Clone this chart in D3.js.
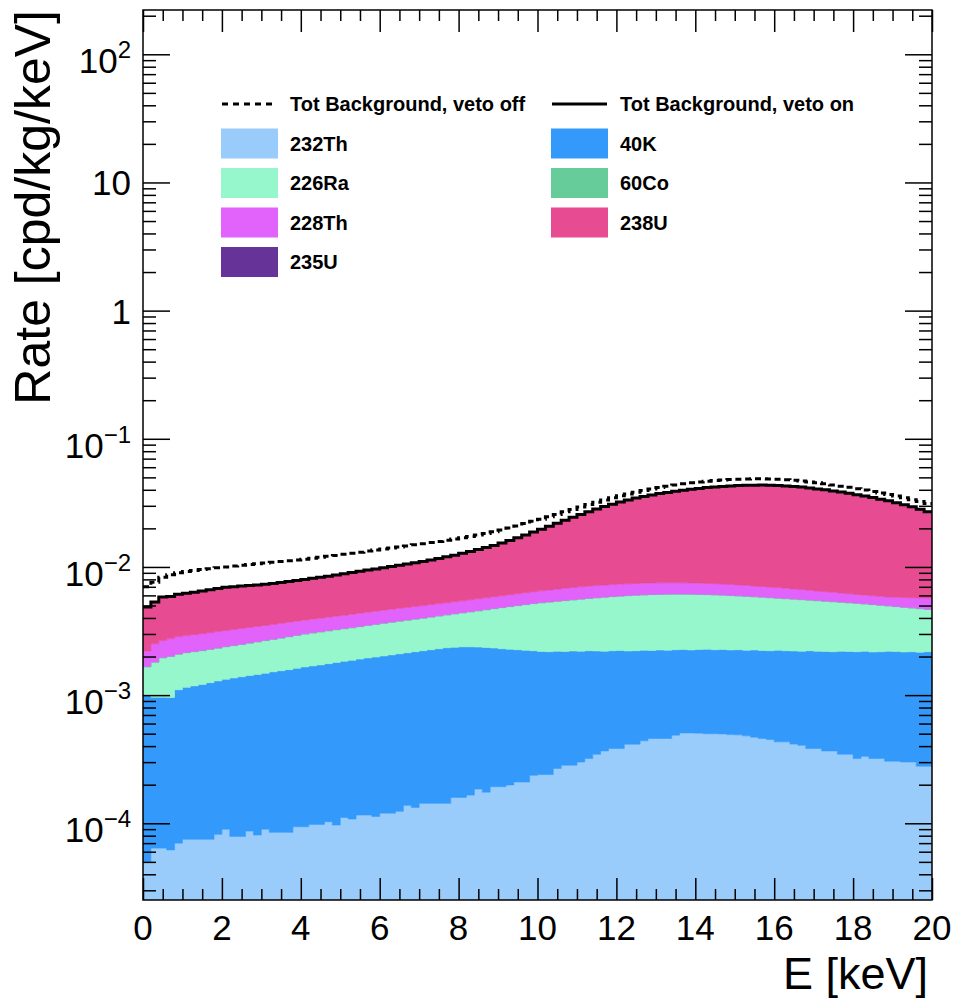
<!DOCTYPE html>
<html>
<head>
<meta charset="utf-8">
<script src="https://cdn.jsdelivr.net/npm/d3@7"></script>
<style>
  html, body { margin: 0; padding: 0; background: #fff; }
  svg { display: block; }
  text { font-family: "Liberation Sans", Arial, Helvetica, sans-serif; fill: #000; }
</style>
</head>
<body>
<svg id="chart" width="957" height="1000"></svg>
<script>
// Energy binning: 100 bins of 0.2 keV between 0 and 20 keV
const eMin = 0, eMax = 20, nBins = 100;

// All rates below are in units of 1e-3 cpd/kg/keV (one value per bin)
const UNIT = 1e-3;

const th232 = [0.050,0.064,0.064,0.062,0.070,0.075,0.075,0.075,0.075,0.082,
  0.090,0.079,0.079,0.087,0.081,0.090,0.085,0.085,0.085,0.094,
  0.094,0.098,0.098,0.103,0.097,0.111,0.108,0.116,0.116,0.113,
  0.120,0.120,0.124,0.138,0.133,0.143,0.143,0.143,0.143,0.159,
  0.159,0.166,0.185,0.175,0.193,0.193,0.199,0.210,0.210,0.237,
  0.240,0.240,0.268,0.284,0.284,0.301,0.320,0.346,0.367,0.383,
  0.383,0.414,0.414,0.440,0.459,0.459,0.459,0.487,0.507,0.507,
  0.505,0.500,0.500,0.498,0.492,0.490,0.481,0.470,0.459,0.450,
  0.432,0.432,0.415,0.406,0.383,0.383,0.367,0.367,0.346,0.346,
  0.320,0.333,0.320,0.320,0.305,0.305,0.301,0.301,0.279,0.279];

const k40 = [0.950,0.897,0.897,0.898,1.031,1.075,1.105,1.135,1.175,1.208,
  1.240,1.281,1.311,1.333,1.369,1.390,1.435,1.465,1.495,1.526,
  1.566,1.592,1.622,1.657,1.703,1.729,1.762,1.794,1.834,1.867,
  1.900,1.940,1.976,2.002,2.047,2.077,2.117,2.157,2.197,2.201,
  2.221,2.214,2.185,2.175,2.137,2.107,2.081,2.050,2.030,1.983,
  1.950,1.940,1.932,1.906,1.926,1.899,1.900,1.864,1.833,1.837,
  1.847,1.796,1.806,1.800,1.771,1.791,1.781,1.773,1.763,1.743,
  1.765,1.780,1.760,1.772,1.758,1.770,1.759,1.780,1.771,1.770,
  1.808,1.788,1.795,1.794,1.837,1.817,1.823,1.813,1.854,1.844,
  1.860,1.867,1.850,1.860,1.895,1.885,1.869,1.879,1.881,1.901];

const ra226 = [0.66,0.84,0.99,1.04,0.98,0.99,1.00,1.01,1.02,1.03,
  1.05,1.07,1.09,1.12,1.15,1.18,1.20,1.23,1.27,1.30,
  1.33,1.36,1.39,1.41,1.43,1.45,1.48,1.51,1.54,1.58,
  1.61,1.64,1.67,1.70,1.73,1.76,1.80,1.84,1.88,1.94,
  2.00,2.08,2.17,2.28,2.39,2.51,2.62,2.73,2.84,2.95,
  3.06,3.14,3.19,3.27,3.32,3.40,3.45,3.53,3.60,3.64,
  3.69,3.76,3.79,3.81,3.85,3.85,3.88,3.87,3.86,3.87,
  3.83,3.80,3.79,3.75,3.73,3.68,3.66,3.60,3.57,3.53,
  3.46,3.43,3.39,3.35,3.28,3.25,3.21,3.17,3.10,3.06,
  3.02,2.94,2.91,2.84,2.76,2.71,2.67,2.60,2.56,2.48];

const co60 = [0.010,0.011,0.011,0.012,0.012,0.012,0.012,0.013,0.013,0.013,
  0.013,0.013,0.014,0.014,0.014,0.014,0.014,0.014,0.015,0.015,
  0.015,0.015,0.015,0.015,0.016,0.016,0.016,0.016,0.016,0.016,
  0.017,0.017,0.017,0.017,0.017,0.017,0.017,0.018,0.018,0.018,
  0.018,0.018,0.018,0.018,0.019,0.019,0.019,0.019,0.019,0.019,
  0.019,0.019,0.020,0.020,0.020,0.020,0.020,0.020,0.020,0.020,
  0.020,0.020,0.020,0.020,0.020,0.020,0.020,0.020,0.020,0.020,
  0.020,0.020,0.019,0.019,0.019,0.019,0.019,0.019,0.019,0.019,
  0.019,0.018,0.018,0.018,0.018,0.018,0.018,0.018,0.017,0.017,
  0.017,0.017,0.017,0.017,0.016,0.016,0.016,0.016,0.016,0.016];

const th228 = [0.54,0.70,0.70,0.75,0.77,0.76,0.77,0.78,0.79,0.80,
  0.80,0.81,0.82,0.82,0.82,0.82,0.83,0.84,0.84,0.84,
  0.84,0.85,0.86,0.87,0.88,0.89,0.91,0.92,0.93,0.94,
  0.95,0.96,0.97,0.98,0.99,1.00,1.01,1.02,1.03,1.04,
  1.05,1.07,1.09,1.10,1.12,1.14,1.16,1.18,1.20,1.22,
  1.25,1.28,1.31,1.34,1.37,1.38,1.39,1.39,1.40,1.40,
  1.40,1.40,1.40,1.40,1.40,1.40,1.39,1.38,1.37,1.36,
  1.35,1.34,1.33,1.31,1.30,1.28,1.26,1.24,1.22,1.20,
  1.18,1.15,1.12,1.09,1.06,1.03,1.00,0.97,0.94,0.91,
  0.88,0.87,0.86,0.86,0.86,0.88,0.92,0.96,1.00,1.04];

const u238 = [2.65,2.80,3.15,3.10,3.25,3.30,3.35,3.45,3.54,3.63,
  3.72,3.74,3.75,3.76,3.78,3.82,3.85,3.90,3.96,4.04,
  4.12,4.20,4.28,4.38,4.49,4.62,4.74,4.86,4.98,5.10,
  5.22,5.36,5.51,5.66,5.82,6.00,6.21,6.44,6.69,6.96,
  7.27,7.59,7.95,8.35,8.78,9.35,9.94,10.63,11.42,12.26,
  13.1,14.1,15.1,16.2,17.4,18.6,19.8,21.1,22.3,23.5,
  24.7,25.8,26.9,27.9,28.8,29.7,30.5,31.3,32.0,32.7,
  33.4,34.0,34.5,35.0,35.4,35.8,36.0,36.2,36.3,36.2,
  36.1,35.9,35.6,35.2,34.6,34.0,33.4,32.7,32.0,31.2,
  30.4,29.6,28.8,27.8,26.9,25.8,24.7,23.6,22.4,21.1];

const u235 = [0.020,0.021,0.022,0.022,0.023,0.023,0.024,0.024,0.025,0.025,
  0.026,0.026,0.027,0.027,0.028,0.028,0.029,0.029,0.030,0.030,
  0.031,0.031,0.032,0.033,0.033,0.034,0.035,0.035,0.036,0.037,
  0.038,0.039,0.040,0.041,0.042,0.043,0.044,0.046,0.047,0.049,
  0.051,0.053,0.055,0.057,0.060,0.063,0.066,0.070,0.074,0.078,
  0.082,0.087,0.092,0.097,0.102,0.107,0.112,0.117,0.122,0.127,
  0.131,0.135,0.139,0.142,0.145,0.148,0.150,0.152,0.154,0.155,
  0.156,0.157,0.158,0.158,0.159,0.159,0.159,0.159,0.158,0.158,
  0.157,0.156,0.155,0.153,0.151,0.149,0.147,0.144,0.141,0.138,
  0.135,0.132,0.129,0.125,0.121,0.117,0.113,0.109,0.105,0.101];

// Total background without the veto
const totVetoOff = [7.0,7.6,8.3,8.7,9.0,9.2,9.4,9.55,9.7,9.85,
  10.0,10.15,10.3,10.45,10.6,10.75,10.9,11.05,11.2,11.35,
  11.5,11.7,11.9,12.1,12.3,12.55,12.8,13.05,13.3,13.55,
  13.8,14.05,14.3,14.6,14.9,15.2,15.5,15.8,16.15,16.5,
  16.9,17.3,17.75,18.25,18.8,19.4,20.1,20.9,21.8,22.7,
  23.6,24.6,25.7,26.9,28.1,29.4,30.7,32.0,33.3,34.6,
  35.9,37.1,38.3,39.5,40.6,41.7,42.7,43.6,44.5,45.3,
  46.0,46.6,47.2,47.7,48.1,48.4,48.6,48.7,48.7,48.6,
  48.3,47.9,47.4,46.8,46.1,45.3,44.5,43.6,42.7,41.8,
  40.8,39.8,38.8,37.8,36.8,35.7,34.6,33.5,32.4,31.3];

// Stack order (bottom to top) and legend labels
const seriesKeys   = ["th232", "k40", "ra226", "co60", "th228", "u238", "u235"];
const seriesLabels = ["232Th", "40K", "226Ra", "60Co", "228Th", "238U", "235U"];
const seriesValues = { th232, k40, ra226, co60, th228, u238, u235 };

// Axis settings
const xMajorTicks = [0, 2, 4, 6, 8, 10, 12, 14, 16, 18, 20];
const yDecades = [-4, -3, -2, -1, 0, 1, 2];
const yMin = 2.52e-5, yMax = 221.6;

const fill = {
  th232: "#99ccfa", k40: "#3399fa", ra226: "#96f6cc", co60: "#66cc99",
  th228: "#e262fc", u238: "#e74b92", u235: "#663399"
};

const svg = d3.select("#chart");
const frame = { left: 143, right: 932, top: 10, bottom: 900 };

const x = d3.scaleLinear().domain([eMin, eMax]).range([frame.left, frame.right]);
const y = d3.scaleLog().domain([yMin, yMax]).range([frame.bottom, frame.top]);

const binWidth = (eMax - eMin) / nBins;
const edges = d3.range(nBins + 1).map(i => eMin + i * binWidth);

// Build stacked table
const table = d3.range(nBins).map(i => {
  const row = { bin: i };
  seriesKeys.forEach(k => { row[k] = seriesValues[k][i] * UNIT; });
  return row;
});
const stacked = d3.stack().keys(seriesKeys)(table);

svg.append("defs").append("clipPath").attr("id", "plotClip")
  .append("rect")
  .attr("x", frame.left).attr("y", frame.top)
  .attr("width", frame.right - frame.left).attr("height", frame.bottom - frame.top);

const plot = svg.append("g").attr("clip-path", "url(#plotClip)");

const clampY = v => y(Math.max(v, yMin));

const area = d3.area()
  .curve(d3.curveStepAfter)
  .x(d => x(d.e))
  .y0(d => clampY(d.lo))
  .y1(d => clampY(d.hi));

// Filled stack layers
stacked.forEach(layer => {
  const pts = edges.map((e, i) => {
    const b = layer[Math.min(i, nBins - 1)];
    return { e, lo: b[0], hi: b[1] };
  });
  plot.append("path")
    .attr("d", area(pts))
    .attr("fill", fill[layer.key])
    .attr("stroke", fill[layer.key])
    .attr("stroke-width", 0.6);
});

const stepLine = d3.line().curve(d3.curveStepAfter).x(d => x(d.e)).y(d => clampY(d.v));

// Total background with veto = top of the stack
const topLayer = stacked[stacked.length - 1];
const vetoOnPts = edges.map((e, i) => ({ e, v: topLayer[Math.min(i, nBins - 1)][1] }));
const vetoOffPts = edges.map((e, i) => ({ e, v: totVetoOff[Math.min(i, nBins - 1)] * UNIT }));

plot.append("path")
  .attr("d", stepLine(vetoOffPts))
  .attr("fill", "none").attr("stroke", "#000")
  .attr("stroke-width", 3).attr("stroke-dasharray", "6,4");

plot.append("path")
  .attr("d", stepLine(vetoOnPts))
  .attr("fill", "none").attr("stroke", "#000")
  .attr("stroke-width", 3);

// Ticks (all pointing inside the frame)
const xMinorTicks = d3.range(eMin, eMax + 0.001, 0.5).filter(v => !xMajorTicks.includes(v));
const yMajorVals = yDecades.map(p => Math.pow(10, p));
const yMinorVals = [];
for (let p = -5; p <= 2; p++) {
  for (let m = 2; m <= 9; m++) {
    const v = m * Math.pow(10, p);
    if (v >= yMin && v <= yMax) yMinorVals.push(v);
  }
}

function drawAxis(gen, transform) {
  const g = svg.append("g").attr("transform", transform).call(gen);
  g.select(".domain").remove();
  g.selectAll(".tick line").attr("stroke", "#000").attr("stroke-width", 1.5);
  g.selectAll(".tick text").remove();
  return g;
}

drawAxis(d3.axisBottom(x).tickValues(xMajorTicks).tickSize(-22).tickFormat(""), `translate(0,${frame.bottom})`);
drawAxis(d3.axisBottom(x).tickValues(xMinorTicks).tickSize(-11).tickFormat(""), `translate(0,${frame.bottom})`);
drawAxis(d3.axisTop(x).tickValues(xMajorTicks).tickSize(-22).tickFormat(""), `translate(0,${frame.top})`);
drawAxis(d3.axisTop(x).tickValues(xMinorTicks).tickSize(-11).tickFormat(""), `translate(0,${frame.top})`);
drawAxis(d3.axisLeft(y).tickValues(yMajorVals).tickSize(-27).tickFormat(""), `translate(${frame.left},0)`);
drawAxis(d3.axisLeft(y).tickValues(yMinorVals).tickSize(-13).tickFormat(""), `translate(${frame.left},0)`);
drawAxis(d3.axisRight(y).tickValues(yMajorVals).tickSize(-27).tickFormat(""), `translate(${frame.right},0)`);
drawAxis(d3.axisRight(y).tickValues(yMinorVals).tickSize(-13).tickFormat(""), `translate(${frame.right},0)`);

// Frame
svg.append("rect")
  .attr("x", frame.left).attr("y", frame.top)
  .attr("width", frame.right - frame.left).attr("height", frame.bottom - frame.top)
  .attr("fill", "none").attr("stroke", "#000").attr("stroke-width", 1.5);

// X tick labels
svg.append("g").selectAll("text").data(xMajorTicks).join("text")
  .attr("x", d => x(d)).attr("y", frame.bottom + 40)
  .attr("text-anchor", "middle").attr("font-size", 35)
  .text(d => d);

// Y tick labels (powers of ten)
const yLab = svg.append("g");
yDecades.forEach(p => {
  const ty = y(Math.pow(10, p));
  const t = yLab.append("text").attr("x", 131).attr("text-anchor", "end").attr("font-size", 35);
  if (p === 0 || p === 1) {
    t.attr("y", ty + 13).text(p === 0 ? "1" : "10");
  } else {
    t.attr("y", ty + 19);
    t.append("tspan").text("10");
    t.append("tspan").attr("dy", -15).attr("font-size", 24)
      .text(p < 0 ? "\u2212" + (-p) : String(p));
  }
});

// Axis titles
svg.append("text")
  .attr("x", 928).attr("y", 989)
  .attr("text-anchor", "end").attr("font-size", 45)
  .text("E [keV]");

svg.append("text")
  .attr("transform", "translate(50,10) rotate(-90)")
  .attr("text-anchor", "end").attr("font-size", 50)
  .text("Rate [cpd/kg/keV]");

// Legend (two columns, row-major)
const legendItems = [
  { kind: "dash", label: "Tot Background, veto off" },
  { kind: "solid", label: "Tot Background, veto on" },
  ...seriesKeys.map((k, i) => ({ kind: "box", key: k, label: seriesLabels[i] }))
];
const legCols = [221, 551];
const legRow0 = 104, legRowStep = 39.5;

const leg = svg.append("g");
legendItems.forEach((it, i) => {
  const cx = legCols[i % 2];
  const cy = legRow0 + Math.floor(i / 2) * legRowStep;
  if (it.kind === "box") {
    leg.append("rect")
      .attr("x", cx).attr("y", cy - 15).attr("width", 57).attr("height", 30)
      .attr("fill", fill[it.key]);
  } else {
    leg.append("line")
      .attr("x1", cx + 1).attr("x2", cx + (it.kind === "dash" ? 53 : 56))
      .attr("y1", cy).attr("y2", cy)
      .attr("stroke", "#000").attr("stroke-width", 3)
      .attr("stroke-dasharray", it.kind === "dash" ? "6,5" : null);
  }
  leg.append("text")
    .attr("x", cx + 69).attr("y", cy + 7)
    .attr("font-size", 20).attr("font-weight", "bold")
    .text(it.label);
});
</script>
</body>
</html>
